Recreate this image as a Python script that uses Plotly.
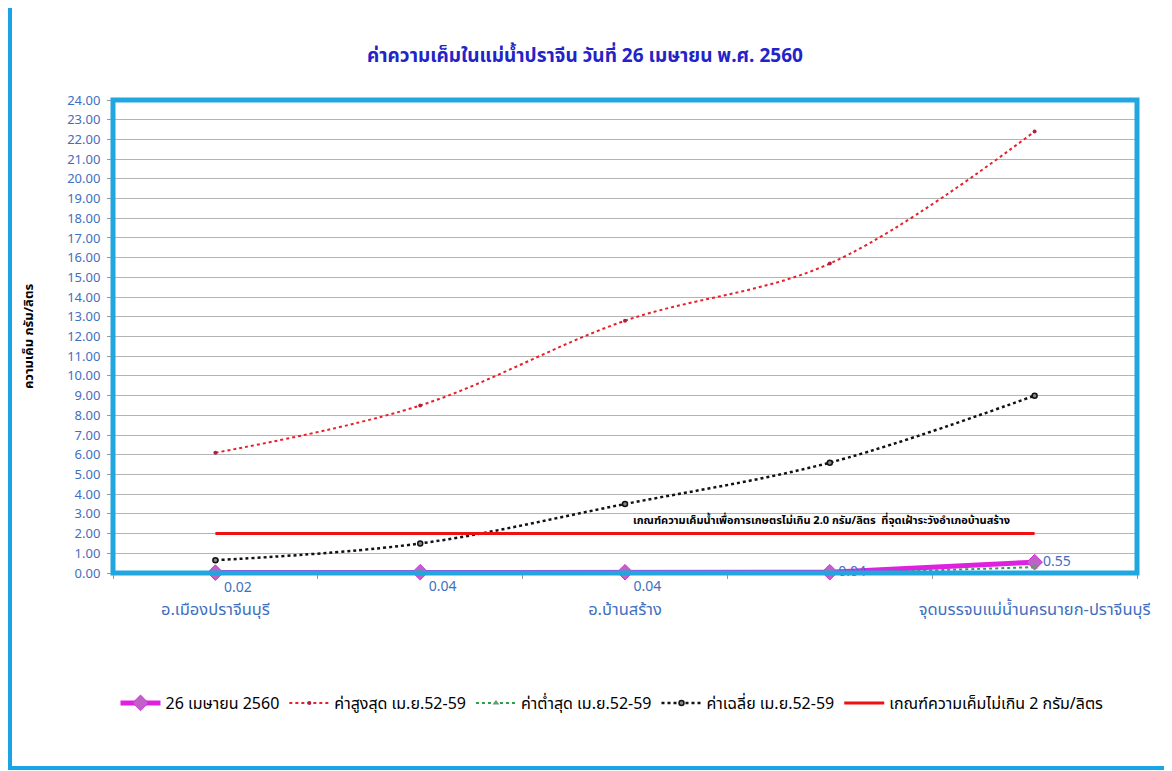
import plotly.graph_objects as go

categories = ["อ.เมืองปราจีนบุรี", "", "อ.บ้านสร้าง", "", "จุดบรรจบแม่น้ำนครนายก-ปราจีนบุรี"]
today = [0.02, 0.04, 0.04, 0.04, 0.55]
max_vals = [6.1, 8.5, 12.8, 15.7, 22.4]
min_vals = [0.01, 0.01, 0.02, 0.02, 0.30]
mean_vals = [0.65, 1.5, 3.5, 5.6, 9.0]
limit_vals = [2.0, 2.0, 2.0, 2.0, 2.0]
today_labels = ["0.02", "0.04", "0.04", "0.04", "0.55"]

names = ["26 เมษายน 2560", "ค่าสูงสุด เม.ย.52-59", "ค่าต่ำสุด เม.ย.52-59",
         "ค่าเฉลี่ย เม.ย.52-59", "เกณฑ์ความเค็มไม่เกิน 2 กรัม/ลิตร"]
title_text = "ค่าความเค็มในแม่น้ำปราจีน วันที่ 26 เมษายน พ.ศ. 2560"
ytitle = "ความเค็ม กรัม/ลิตร"
note = "เกณฑ์ความเค็มน้ำเพื่อการเกษตรไม่เกิน 2.0 กรัม/ลิตร  ที่จุดเฝ้าระวังอำเภอบ้านสร้าง"

FONT = "Tahoma, 'Noto Sans Thai', 'Noto Sans', 'DejaVu Sans', sans-serif"
BLUE_TXT = "#3f6fc0"
xs = list(range(len(categories)))

fig = go.Figure()

fig.add_trace(go.Scatter(
    x=xs, y=max_vals, name=names[1], mode="lines+markers",
    line=dict(color="#e8202a", width=2, dash="dot", shape="spline"),
    marker=dict(symbol="circle", size=4, color="#b02040"),
))
fig.add_trace(go.Scatter(
    x=xs, y=min_vals, name=names[2], mode="lines+markers",
    line=dict(color="#2e9e4a", width=2, dash="dot", shape="spline"),
    marker=dict(symbol="triangle-up", size=6, color="#6a9a6a"),
))
fig.add_trace(go.Scatter(
    x=xs, y=mean_vals, name=names[3], mode="lines+markers",
    line=dict(color="#111111", width=2.5, dash="dot", shape="spline"),
    marker=dict(symbol="circle", size=5, color="#888888", line=dict(color="#111111", width=1.5)),
))
fig.add_trace(go.Scatter(
    x=xs, y=limit_vals, name=names[4], mode="lines",
    line=dict(color="#ee1111", width=3),
))
fig.add_trace(go.Scatter(
    x=xs, y=today, name=names[0], mode="lines+markers+text",
    line=dict(color="#e020e0", width=5),
    marker=dict(symbol="diamond", size=12, color="#c060c8", line=dict(color="#d030d8", width=1)),
    text=today_labels,
    textposition=["bottom right", "bottom right", "bottom right", "middle right", "middle right"],
    textfont=dict(color=BLUE_TXT, size=14, family=FONT),
    cliponaxis=False,
))

# page body has an 8px margin: work in reference pixels minus 8
OFF = 8
W, H = 1172 - OFF, 771 - OFF
L, T = 113 - OFF, 100 - OFF
R = W - (1137 - OFF)
B = H - (573 - OFF)
pw, ph = W - L - R, H - T - B

def px(xp):
    return (xp - OFF - L) / pw

def py(yp):
    return 1 - (yp - OFF - T) / ph

fig.update_layout(
    width=W, height=H,
    margin=dict(l=L, r=R, t=T, b=B, autoexpand=False),
    paper_bgcolor="white", plot_bgcolor="white",
    font=dict(family=FONT, color="black"),
    title=dict(text=title_text, x=px(585), xanchor="center", xref="paper",
               y=1 - (55 - OFF) / H, yanchor="middle",
               font=dict(size=19, color="#2323c8", family=FONT, weight="bold")),
    showlegend=True,
    legend=dict(orientation="h", xref="container", x=(612 - OFF) / W, xanchor="center",
                yref="container", y=1 - (703 - OFF) / H, yanchor="middle",
                font=dict(size=16, color="black", family=FONT),
                traceorder="normal", itemwidth=40, tracegroupgap=0),
    xaxis=dict(
        range=[-0.5, 4.5], tickvals=xs, ticktext=categories, ticks="",
        showgrid=False, zeroline=False, showline=False,
        tickfont=dict(size=16.5, color=BLUE_TXT, family=FONT),
        ticklabelstandoff=24,
        minor=dict(tick0=0.5, dtick=1, ticks="outside", ticklen=5, tickcolor="#999999", showgrid=False),
    ),
    yaxis=dict(
        range=[0, 24], dtick=1, tickformat=".2f", ticks="outside", ticklen=5, tickcolor="#999999",
        showgrid=True, gridcolor="#b4b4b4", gridwidth=1, zeroline=False, showline=False,
        tickfont=dict(size=13, color=BLUE_TXT, family=FONT),
        ticklabelstandoff=4,
        title=dict(text=ytitle, standoff=30, font=dict(size=13, color="black", family=FONT, weight="bold")),
    ),
    annotations=[dict(
        x=2.96, y=2.0, xref="x", yref="y", text=note, showarrow=False,
        yanchor="bottom", yshift=3,
        font=dict(size=11, color="black", family=FONT, weight="bold"),
    )],
    shapes=[
        dict(type="rect", xref="paper", yref="paper", x0=0, x1=1, y0=0, y1=1,
             line=dict(color="#22a6e0", width=5), layer="above"),
        dict(type="rect", xref="paper", yref="paper", x0=px(10), x1=px(1185), y0=py(768), y1=py(6),
             line=dict(color="#1aa3e6", width=4), layer="above"),
    ],
)

order = [4, 0, 1, 2, 3]
fig.data = tuple(fig.data[i] for i in order)

fig.write_html("out.html")
